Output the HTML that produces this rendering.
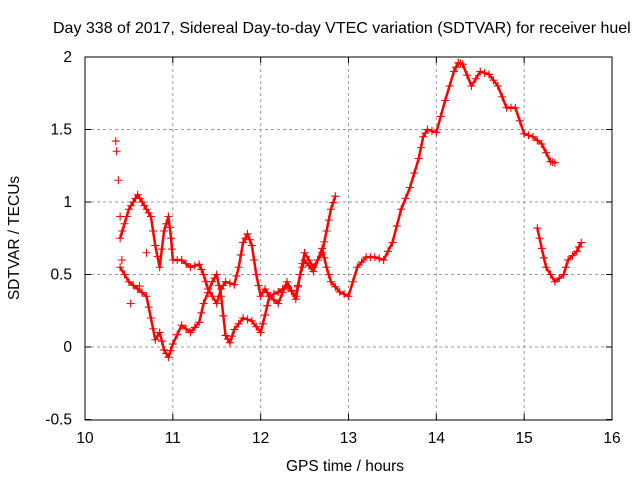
<!DOCTYPE html>
<html><head><meta charset="utf-8"><style>
body{margin:0;background:#fff;font-family:"Liberation Sans",sans-serif}
</style></head><body>
<svg id="c" width="640" height="480" xmlns="http://www.w3.org/2000/svg" font-family="Liberation Sans, sans-serif" font-size="15.5">
<text x="53" y="33" font-size="16">Day 338 of 2017, Sidereal Day-to-day VTEC variation (SDTVAR) for receiver huel</text>
<text x="345" y="471" text-anchor="middle">GPS time / hours</text>
<text transform="translate(19,238) rotate(-90)" text-anchor="middle">SDTVAR / TECUs</text>
<g id="grid"></g><g id="axes"></g><g id="marks"></g>
</svg>
<script>
const xTicks=[10,11,12,13,14,15,16];
const yTicks=[-0.5,0,0.5,1,1.5,2];
const trackA=[[10.4,0.75],[10.45,0.85],[10.5,0.95],[10.55,1.0],[10.6,1.05],[10.65,1.0],[10.7,0.95],[10.75,0.9],[10.8,0.7],[10.85,0.55],[10.9,0.8],[10.95,0.9],[10.98,0.75],[11.0,0.6],[11.1,0.6],[11.2,0.55],[11.3,0.57],[11.35,0.5],[11.4,0.4],[11.5,0.3],[11.55,0.4],[11.6,0.45],[11.7,0.43],[11.75,0.55],[11.8,0.72],[11.85,0.78],[11.9,0.7],[11.95,0.5],[12.0,0.35],[12.05,0.4],[12.1,0.35],[12.2,0.3],[12.3,0.45],[12.4,0.33],[12.45,0.5],[12.5,0.65],[12.6,0.55],[12.7,0.65],[12.75,0.8],[12.8,0.95],[12.85,1.04]];
const trackB=[[10.4,0.55],[10.5,0.45],[10.6,0.4],[10.7,0.35],[10.75,0.2],[10.8,0.05],[10.85,0.1],[10.9,-0.02],[10.95,-0.07],[11.0,0.02],[11.1,0.15],[11.2,0.1],[11.3,0.17],[11.35,0.3],[11.45,0.45],[11.5,0.5],[11.55,0.35],[11.6,0.08],[11.65,0.03],[11.7,0.12],[11.8,0.2],[11.9,0.18],[12.0,0.1],[12.05,0.22],[12.1,0.35],[12.2,0.38],[12.3,0.42],[12.4,0.35],[12.45,0.5],[12.5,0.6],[12.6,0.52],[12.7,0.68],[12.75,0.55],[12.8,0.45],[12.9,0.38],[13.0,0.35],[13.1,0.55],[13.2,0.62],[13.3,0.62],[13.4,0.6],[13.5,0.72],[13.6,0.95],[13.7,1.1],[13.8,1.3],[13.85,1.45],[13.9,1.5],[14.0,1.48],[14.1,1.7],[14.2,1.9],[14.25,1.96],[14.3,1.95],[14.4,1.8],[14.5,1.9],[14.6,1.88],[14.7,1.8],[14.8,1.65],[14.9,1.65],[15.0,1.47],[15.1,1.45],[15.2,1.4],[15.3,1.28],[15.35,1.27]];
const trackC=[[15.15,0.82],[15.2,0.68],[15.25,0.55],[15.35,0.45],[15.45,0.5],[15.5,0.6],[15.6,0.66],[15.65,0.72]];
const scatter=[[10.35,1.42],[10.36,1.35],[10.38,1.15],[10.4,0.9],[10.52,0.3],[10.7,0.65],[10.62,0.42],[10.42,0.6]];
const X=h=>85+(h-10)*(527/6), Y=v=>347-v*145;
const NS='http://www.w3.org/2000/svg';
function mk(tag,attrs,parent){const e=document.createElementNS(NS,tag);for(const k in attrs)e.setAttribute(k,attrs[k]);document.getElementById(parent).appendChild(e);return e;}
xTicks.forEach(t=>{
 if(t>10&&t<16){const g=mk('line',{x1:X(t),x2:X(t),y1:57,y2:420,stroke:'#999','stroke-dasharray':'3,3'},'grid');}
 const l=mk('text',{x:X(t),y:443,'text-anchor':'middle'},'axes');l.textContent=t;
 
 
 mk('line',{x1:X(t),x2:X(t),y1:420,y2:414,stroke:'#000'},'axes');mk('line',{x1:X(t),x2:X(t),y1:57,y2:63,stroke:'#000'},'axes');
});
yTicks.forEach(t=>{
 if(t>-0.5&&t<2){const g=mk('line',{x1:85,x2:612,y1:Y(t),y2:Y(t),stroke:'#999','stroke-dasharray':'3,3'},'grid');}
 const l=mk('text',{x:72,y:Y(t)+5,'text-anchor':'end'},'axes');l.textContent=t;
 
 
 mk('line',{x1:85,x2:91,y1:Y(t),y2:Y(t),stroke:'#000'},'axes');mk('line',{x1:612,x2:606,y1:Y(t),y2:Y(t),stroke:'#000'},'axes');
});
const fr=mk('rect',{x:85,y:57,width:527,height:363,fill:'none',stroke:'#000'},'axes');


function plus(x,y){return `M${x-4},${y}h8M${x},${y-4}v8`;}
[trackA,trackB,trackC].forEach((tr,i)=>{
 const pl=mk('polyline',{points:tr.map(p=>X(p[0])+','+Y(p[1])).join(' '),fill:'none',stroke:'#f00','stroke-width':2.5,'stroke-linejoin':'round'},'marks');
 
 
 let d='';for(let j=0;j<tr.length;j++){d+=plus(X(tr[j][0]),Y(tr[j][1]));if(j+1<tr.length){d+=plus((X(tr[j][0])+X(tr[j+1][0]))/2,(Y(tr[j][1])+Y(tr[j+1][1]))/2);}}
 const p=mk('path',{d:d,stroke:'#f00','stroke-width':1.1,fill:'none'},'marks');
 
 
});
let ds='';scatter.forEach(p=>ds+=plus(X(p[0]),Y(p[1])));
const sp=mk('path',{d:ds,stroke:'#f00','stroke-width':1.1,fill:'none'},'marks');


</script>
</body></html>
